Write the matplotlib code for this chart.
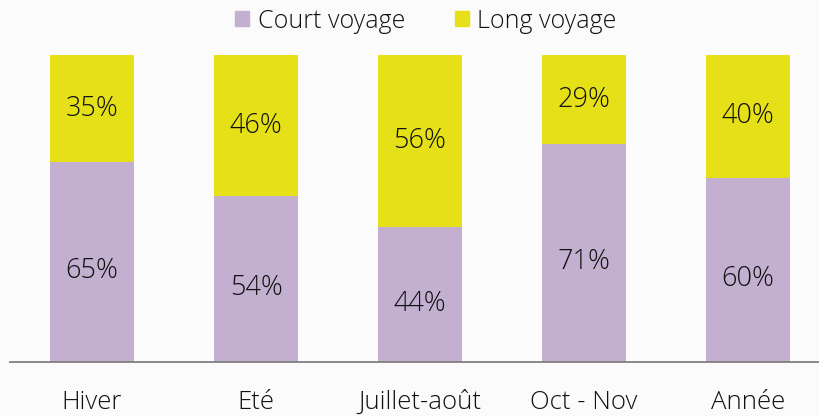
import matplotlib.pyplot as plt
from matplotlib.patches import Patch

categories = ['Hiver', 'Eté', 'Juillet-août', 'Oct - Nov', 'Année']
court = [65, 54, 44, 71, 60]
long_ = [35, 46, 56, 29, 40]

PURPLE = '#C3AFD0'
YELLOW = '#E5E017'
TEXT = '#111111'

plt.rcParams['font.family'] = ['Open Sans', 'DejaVu Sans']
plt.rcParams['font.weight'] = 'light'

fig = plt.figure(figsize=(8.19, 4.16), dpi=100, facecolor='#FBFBFB')
ax = fig.add_axes([10 / 819, 54 / 416, 809 / 819, 307 / 416])
ax.set_facecolor('#FBFBFB')

x = list(range(len(categories)))
w = 84 / 164
ax.bar(x, court, width=w, color=PURPLE)
ax.bar(x, long_, width=w, bottom=court, color=YELLOW)

for i in x:
    ax.text(i, court[i] / 2 - 3, f'{court[i]}%', ha='center', va='center',
            fontsize=19.5, color=TEXT)
    ax.text(i, court[i] + long_[i] / 2, f'{long_[i]}%', ha='center', va='center',
            fontsize=19.5, color=TEXT)

ax.set_xlim(-0.5, -0.5 + 809 / 164)
ax.set_ylim(0, 100)
ax.set_yticks([])
ax.set_xticks(x)
ax.set_xticklabels(categories, fontsize=18.5, color=TEXT)
ax.tick_params(axis='x', length=0, pad=20)
for s in ['top', 'right', 'left']:
    ax.spines[s].set_visible(False)
ax.spines['bottom'].set_color('#7f7f7f')
ax.spines['bottom'].set_linewidth(1.3)

handles = [Patch(color=PURPLE, label='Court voyage'),
           Patch(color=YELLOW, label='Long voyage')]
fig.legend(handles=handles, loc='center', bbox_to_anchor=(0.52, 1 - 21 / 416),
           ncol=2, frameon=False, fontsize=18, handlelength=0.55,
           handleheight=0.55, handletextpad=0.35, columnspacing=2.0,
           labelcolor=TEXT)

fig.savefig('out.png', dpi=100, facecolor=fig.get_facecolor())
